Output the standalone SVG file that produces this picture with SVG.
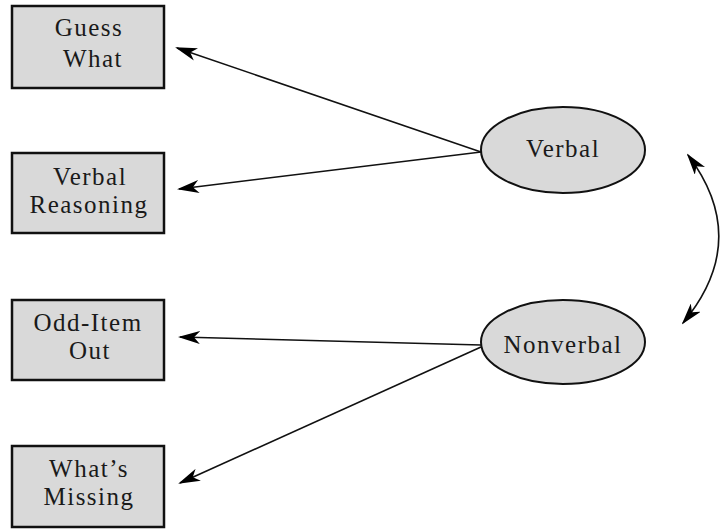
<svg xmlns="http://www.w3.org/2000/svg" width="722" height="529" viewBox="0 0 722 529">
<style>
.box{fill:#d9d9d9;stroke:#111;stroke-width:2.5}
.ell{fill:#d9d9d9;stroke:#111;stroke-width:2}
.t{font-family:"Liberation Serif","Times New Roman",serif;font-size:25px;fill:#1a1a1a;text-anchor:middle;letter-spacing:1.5px}
.c{fill:none;stroke:#111;stroke-width:1.6}
</style>
<defs>
<marker id="ah" markerUnits="userSpaceOnUse" markerWidth="22" markerHeight="13" refX="20" refY="6.5" orient="auto-start-reverse" viewBox="0 0 22 13">
<path d="M0,0 L22,6.5 L0,13 L6,6.5 Z" fill="#000"/>
</marker>
</defs>
<rect width="722" height="529" fill="#fff"/>
<g id="connectors">
<line class="c" x1="481" y1="152" x2="177" y2="48" marker-end="url(#ah)"/>
<line class="c" x1="481" y1="152" x2="179" y2="189" marker-end="url(#ah)"/>
<line class="c" x1="481" y1="345" x2="180" y2="337" marker-end="url(#ah)"/>
<line class="c" x1="481" y1="347" x2="180" y2="483" marker-end="url(#ah)"/>
<path class="c" d="M688,155 Q752,240 683,323" marker-start="url(#ah)" marker-end="url(#ah)"/>
</g>
<g id="guess-what">
<rect class="box" x="12" y="6" width="152" height="82"/>
<text class="t" x="89" y="36">Guess</text>
<text class="t" x="93" y="67">What</text>
</g>
<g id="verbal-reasoning">
<rect class="box" x="12" y="153" width="152" height="80"/>
<text class="t" x="90" y="185">Verbal</text>
<text class="t" x="89" y="213">Reasoning</text>
</g>
<g id="odd-item-out">
<rect class="box" x="12" y="300" width="152" height="80"/>
<text class="t" x="88" y="331">Odd-Item</text>
<text class="t" x="90" y="359">Out</text>
</g>
<g id="whats-missing">
<rect class="box" x="12" y="446" width="152" height="81"/>
<text class="t" x="89" y="477">What’s</text>
<text class="t" x="89" y="505">Missing</text>
</g>
<g id="verbal">
<ellipse class="ell" cx="563" cy="150" rx="82" ry="43"/>
<text class="t" x="563" y="157">Verbal</text>
</g>
<g id="nonverbal">
<ellipse class="ell" cx="563" cy="342" rx="82" ry="42"/>
<text class="t" x="563" y="353">Nonverbal</text>
</g>
</svg>
